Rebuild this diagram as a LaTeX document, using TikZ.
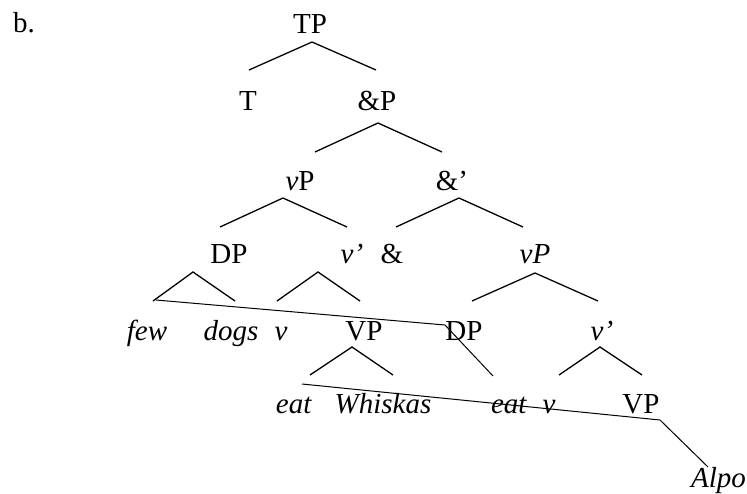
\documentclass[tikz,border=0pt]{standalone}
\usepackage{fontspec}
\setmainfont{Liberation Serif}
\begin{document}
\begin{tikzpicture}[x=1pt,y=-1pt,
  lab/.style={anchor=base,inner sep=0pt,font=\fontsize{29}{32}\selectfont},
  edge/.style={line width=1.3pt},
  move/.style={line width=1pt}]
\useasboundingbox (0,0) rectangle (747,493);
% labels
\node[lab] (b) at (24,32) {b.};
\node[lab] (TP) at (310,33) {TP};
\node[lab] (T) at (248,110) {T};
\node[lab] (AP) at (377,110) {\&P};
\node[lab] (vP1) at (300,190) {\textit{v}P};
\node[lab] (Abar) at (452,190) {\&’};
\node[lab] (DP1) at (229,263) {DP};
\node[lab] (vbar1) at (352,263) {\textit{v’}};
\node[lab] (amp) at (392,263) {\&};
\node[lab] (vP2) at (535,263) {\textit{vP}};
\node[lab] (few) at (147,340) {\textit{few}};
\node[lab] (dogs) at (231,340) {\textit{dogs}};
\node[lab] (v1) at (281,340) {\textit{v}};
\node[lab] (VP1) at (364,340) {VP};
\node[lab] (DP2) at (464,340) {DP};
\node[lab] (vbar2) at (602,340) {\textit{v’}};
\node[lab] (eat1) at (294,413) {\textit{eat}};
\node[lab] (whiskas) at (383,413) {\textit{Whiskas}};
\node[lab] (eat2) at (509,413) {\textit{eat}};
\node[lab] (v2) at (549,413) {\textit{v}};
\node[lab] (VP2) at (641,413) {VP};
\node[lab,anchor=base east] (alpo) at (746,487) {\textit{Alpo}};
% branch points
\coordinate (TPa) at (312,42);  \coordinate (TPl) at (249,70);  \coordinate (TPr) at (376,70);
\coordinate (APa) at (378,123); \coordinate (APl) at (315,152); \coordinate (APr) at (442,152);
\coordinate (vPa) at (283,198); \coordinate (vPl) at (220,227); \coordinate (vPr) at (347,227);
\coordinate (Aba) at (459,198); \coordinate (Abl) at (396,227); \coordinate (Abr) at (523,227);
\coordinate (DPa) at (193,272); \coordinate (DPl) at (153,301); \coordinate (DPr) at (235,301);
\coordinate (vba) at (318,272); \coordinate (vbl) at (277,301); \coordinate (vbr) at (360,301);
\coordinate (vQa) at (535,273); \coordinate (vQl) at (472,301); \coordinate (vQr) at (598,301);
\coordinate (VPa) at (352,347); \coordinate (VPl) at (310,375); \coordinate (VPr) at (393,375);
\coordinate (vca) at (600,347); \coordinate (vcl) at (559,375); \coordinate (vcr) at (642,375);
\coordinate (m1a) at (156,300); \coordinate (m1b) at (445,325); \coordinate (m1c) at (493,376);
\coordinate (m2a) at (302,384); \coordinate (m2b) at (660,420); \coordinate (m2c) at (708,467);
% tree branches
\draw[edge] (TPl) -- (TPa) -- (TPr);
\draw[edge] (APl) -- (APa) -- (APr);
\draw[edge] (vPl) -- (vPa) -- (vPr);
\draw[edge] (Abl) -- (Aba) -- (Abr);
\draw[edge] (DPl) -- (DPa) -- (DPr);
\draw[edge] (vbl) -- (vba) -- (vbr);
\draw[edge] (vQl) -- (vQa) -- (vQr);
\draw[edge] (VPl) -- (VPa) -- (VPr);
\draw[edge] (vcl) -- (vca) -- (vcr);
% movement lines
\draw[move] (m1a) -- (m1b) -- (m1c);
\draw[move] (m2a) -- (m2b) -- (m2c);
\end{tikzpicture}
\end{document}
